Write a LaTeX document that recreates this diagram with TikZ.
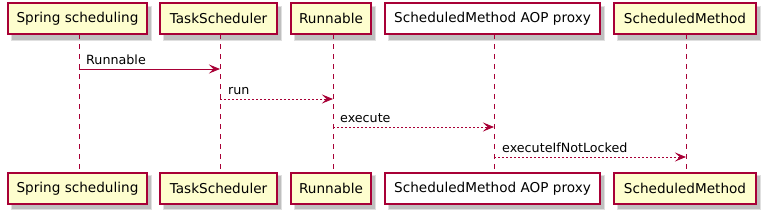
\documentclass[tikz,border=0pt]{standalone}
\usepackage{fontspec}
\setmainfont{DejaVu Sans}
\usetikzlibrary{arrows.meta}
\definecolor{pborder}{HTML}{A80036}
\definecolor{pfill}{HTML}{FEFECE}
\tikzset{
  part/.style={draw=pborder, line width=1.2pt, fill=pfill, minimum height=31pt, inner xsep=7pt, font=\fontsize{13.6}{16}\selectfont, anchor=center},
  partw/.style={part, fill=white},
  life/.style={draw=pborder, line width=0.9pt, dash pattern=on 5pt off 5pt},
  msg/.style={draw=pborder, line width=0.9pt, -{Stealth[length=11pt,width=9pt,inset=4.5pt]}},
  rmsg/.style={msg, dash pattern=on 2pt off 2pt},
  lbl/.style={font=\fontsize{12.7}{15}\selectfont, anchor=base west, inner sep=0pt},
}
\begin{document}
\begin{tikzpicture}[x=1pt,y=-1pt]
\useasboundingbox (0,0) rectangle (765,214);
% shadows
\foreach \a/\b in {8/147,160/277,291/371,385/600,614/756}{
  \foreach \y in {3,172}{
    \fill[black,opacity=0.12] (\a+3,\y+3) rectangle (\b+5,\y+33+5);
    \fill[black,opacity=0.15] (\a+4,\y+4) rectangle (\b+4,\y+33+4);
  }
}
\node[part, minimum width=139pt] (t1) at (77.5,18.5) {Spring scheduling};
\node[part, minimum width=117pt] (t2) at (218.5,18.5) {TaskScheduler};
\node[part, minimum width=80pt] (t3) at (331,18.5) {Runnable};
\node[partw, minimum width=215pt] (t4) at (492.5,18.5) {ScheduledMethod AOP proxy};
\node[part, minimum width=142pt] (t5) at (685,18.5) {ScheduledMethod};
\node[part, minimum width=139pt] (b1) at (77.5,188.5) {Spring scheduling};
\node[part, minimum width=117pt] (b2) at (218.5,188.5) {TaskScheduler};
\node[part, minimum width=80pt] (b3) at (331,188.5) {Runnable};
\node[partw, minimum width=215pt] (b4) at (492.5,188.5) {ScheduledMethod AOP proxy};
\node[part, minimum width=142pt] (b5) at (685,188.5) {ScheduledMethod};
% lifelines
\coordinate (l1t) at (79,34); \coordinate (l1b) at (79,172);
\coordinate (l2t) at (220,34); \coordinate (l2b) at (220,172);
\coordinate (l3t) at (333,34); \coordinate (l3b) at (333,172);
\coordinate (l4t) at (494,34); \coordinate (l4b) at (494,172);
\coordinate (l5t) at (686,34); \coordinate (l5b) at (686,172);
\foreach \i in {1,...,5}{\draw[life] (l\i t) -- (l\i b);}
% messages
\coordinate (m1a) at (79,69); \coordinate (m1b) at (220,69);
\coordinate (m2a) at (220,99); \coordinate (m2b) at (333,99);
\coordinate (m3a) at (333,127); \coordinate (m3b) at (494,127);
\coordinate (m4a) at (494,157); \coordinate (m4b) at (686,157);
\draw[msg] (m1a) -- (m1b);
\draw[rmsg] (m2a) -- (m2b);
\draw[rmsg] (m3a) -- (m3b);
\draw[rmsg] (m4a) -- (m4b);
\node[lbl] (n1) at (86,64) {Runnable};
\node[lbl] (n2) at (228,94) {run};
\node[lbl] (n3) at (340,122) {execute};
\node[lbl] (n4) at (502,152) {executeIfNotLocked};
\end{tikzpicture}
\end{document}
